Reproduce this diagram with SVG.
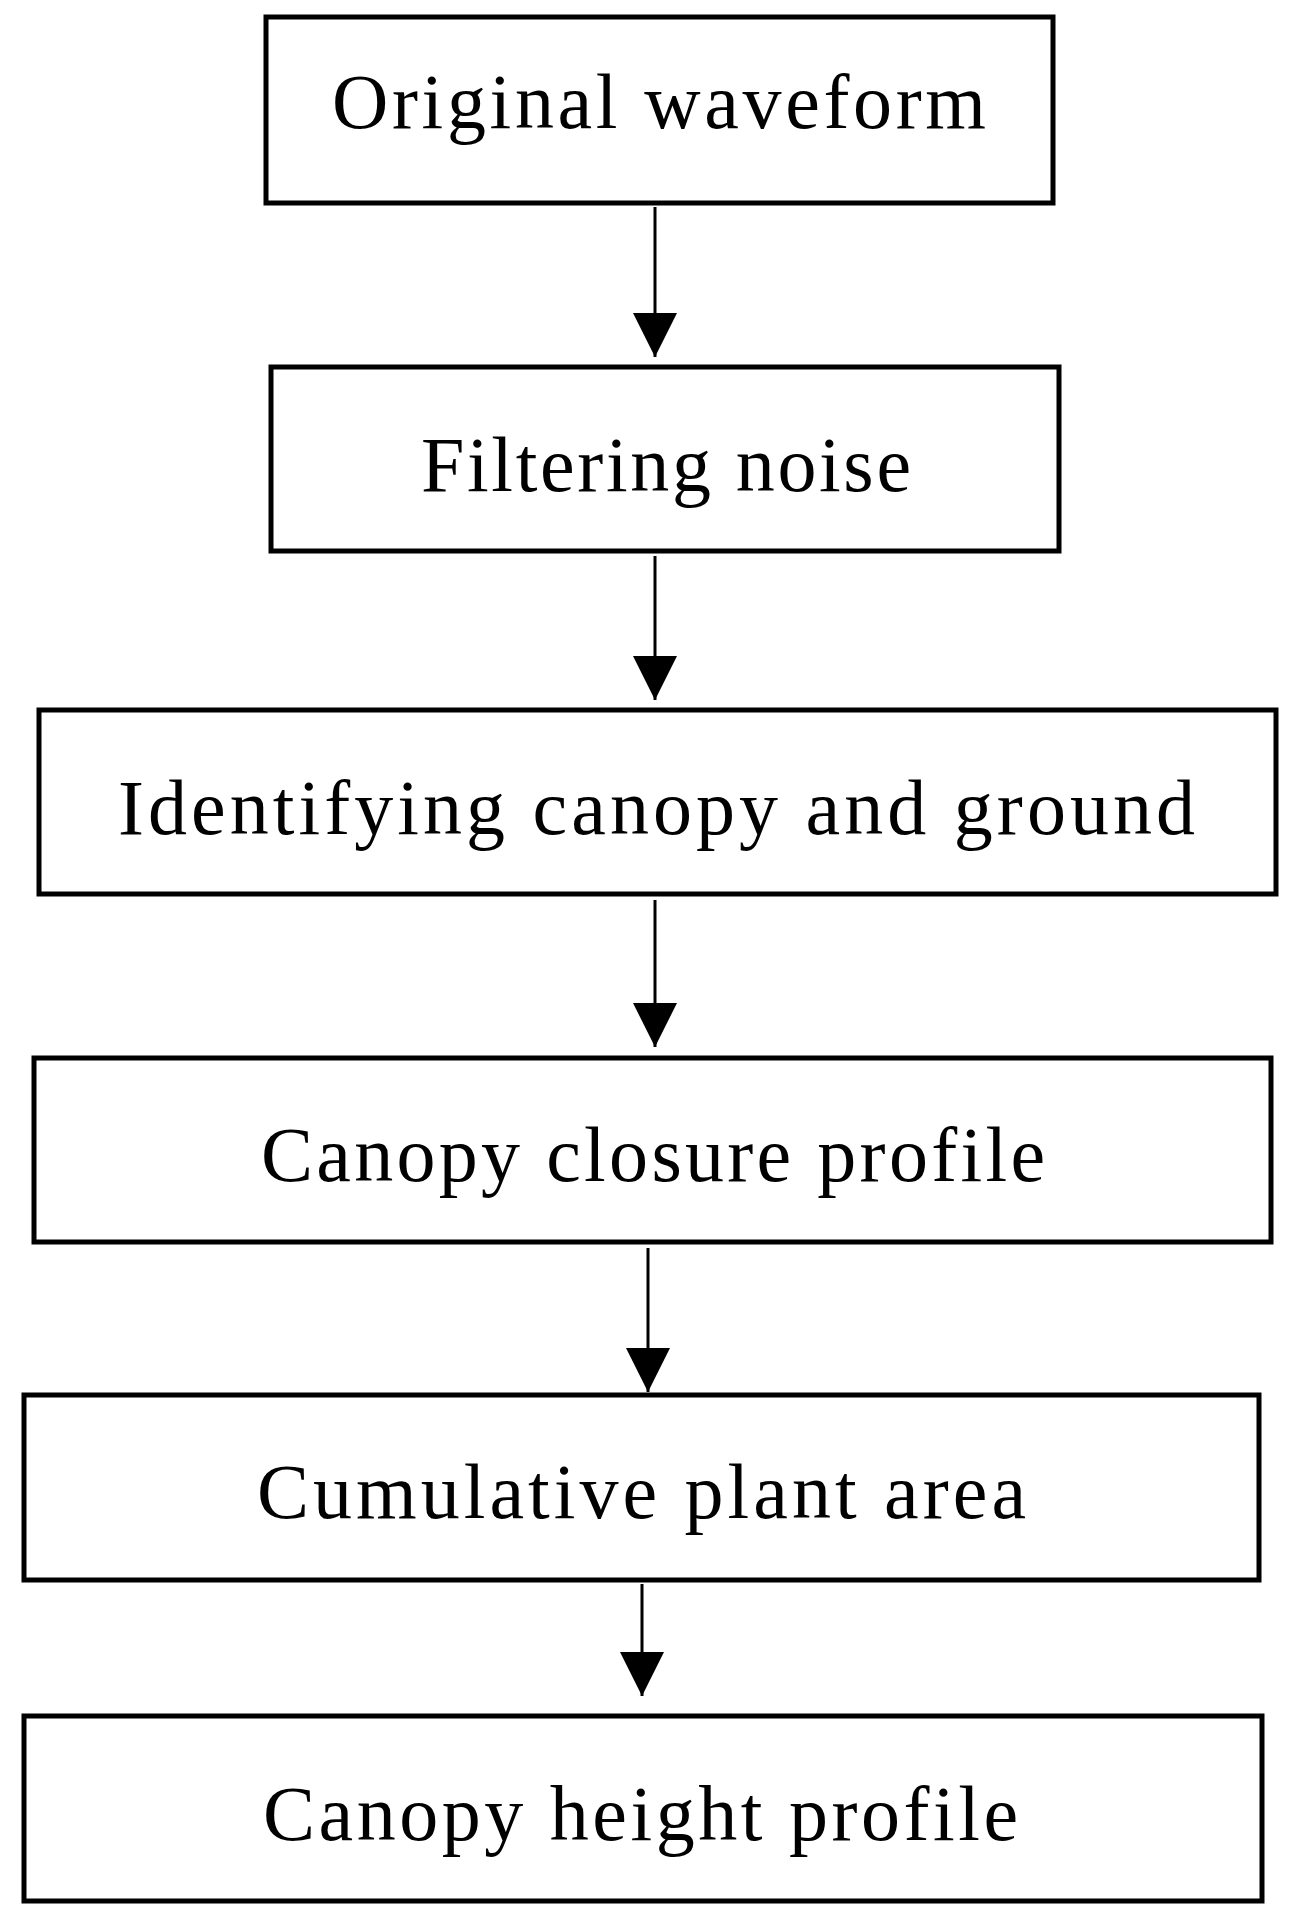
<svg xmlns="http://www.w3.org/2000/svg" width="1289" height="1906" viewBox="0 0 1289 1906">
<style>
rect{fill:#fff;stroke:#000;stroke-width:5}
text{font-family:"Liberation Serif",serif;font-size:78px;fill:#000}
line{stroke:#000;stroke-width:3}
</style>
<defs><marker id="ah" markerUnits="userSpaceOnUse" markerWidth="44" markerHeight="48" refX="44" refY="22" orient="auto"><path d="M0,0L44,22L0,44Z" fill="#000"/></marker></defs>
<rect width="1289" height="1906" style="stroke:none"/>
<g id="connectors">
<line x1="655" y1="207" x2="655" y2="357" marker-end="url(#ah)"/>
<line x1="655" y1="556" x2="655" y2="700" marker-end="url(#ah)"/>
<line x1="655" y1="900" x2="655" y2="1047" marker-end="url(#ah)"/>
<line x1="648" y1="1248" x2="648" y2="1392" marker-end="url(#ah)"/>
<line x1="642" y1="1584" x2="642" y2="1696" marker-end="url(#ah)"/>
</g>
<g id="n1"><rect x="266" y="17" width="787" height="186"/><text x="332" y="128" textLength="654">Original waveform</text></g>
<g id="n2"><rect x="271" y="367" width="788" height="184"/><text x="421" y="491" textLength="490">Filtering noise</text></g>
<g id="n3"><rect x="39" y="710" width="1237" height="184"/><text x="118" y="834" textLength="1077">Identifying canopy and ground</text></g>
<g id="n4"><rect x="34" y="1058" width="1237" height="184"/><text x="261" y="1181" textLength="784">Canopy closure profile</text></g>
<g id="n5"><rect x="24" y="1395" width="1235" height="185"/><text x="257" y="1518" textLength="769">Cumulative plant area</text></g>
<g id="n6"><rect x="24" y="1716" width="1238" height="185"/><text x="263" y="1840" textLength="755">Canopy height profile</text></g>
</svg>
